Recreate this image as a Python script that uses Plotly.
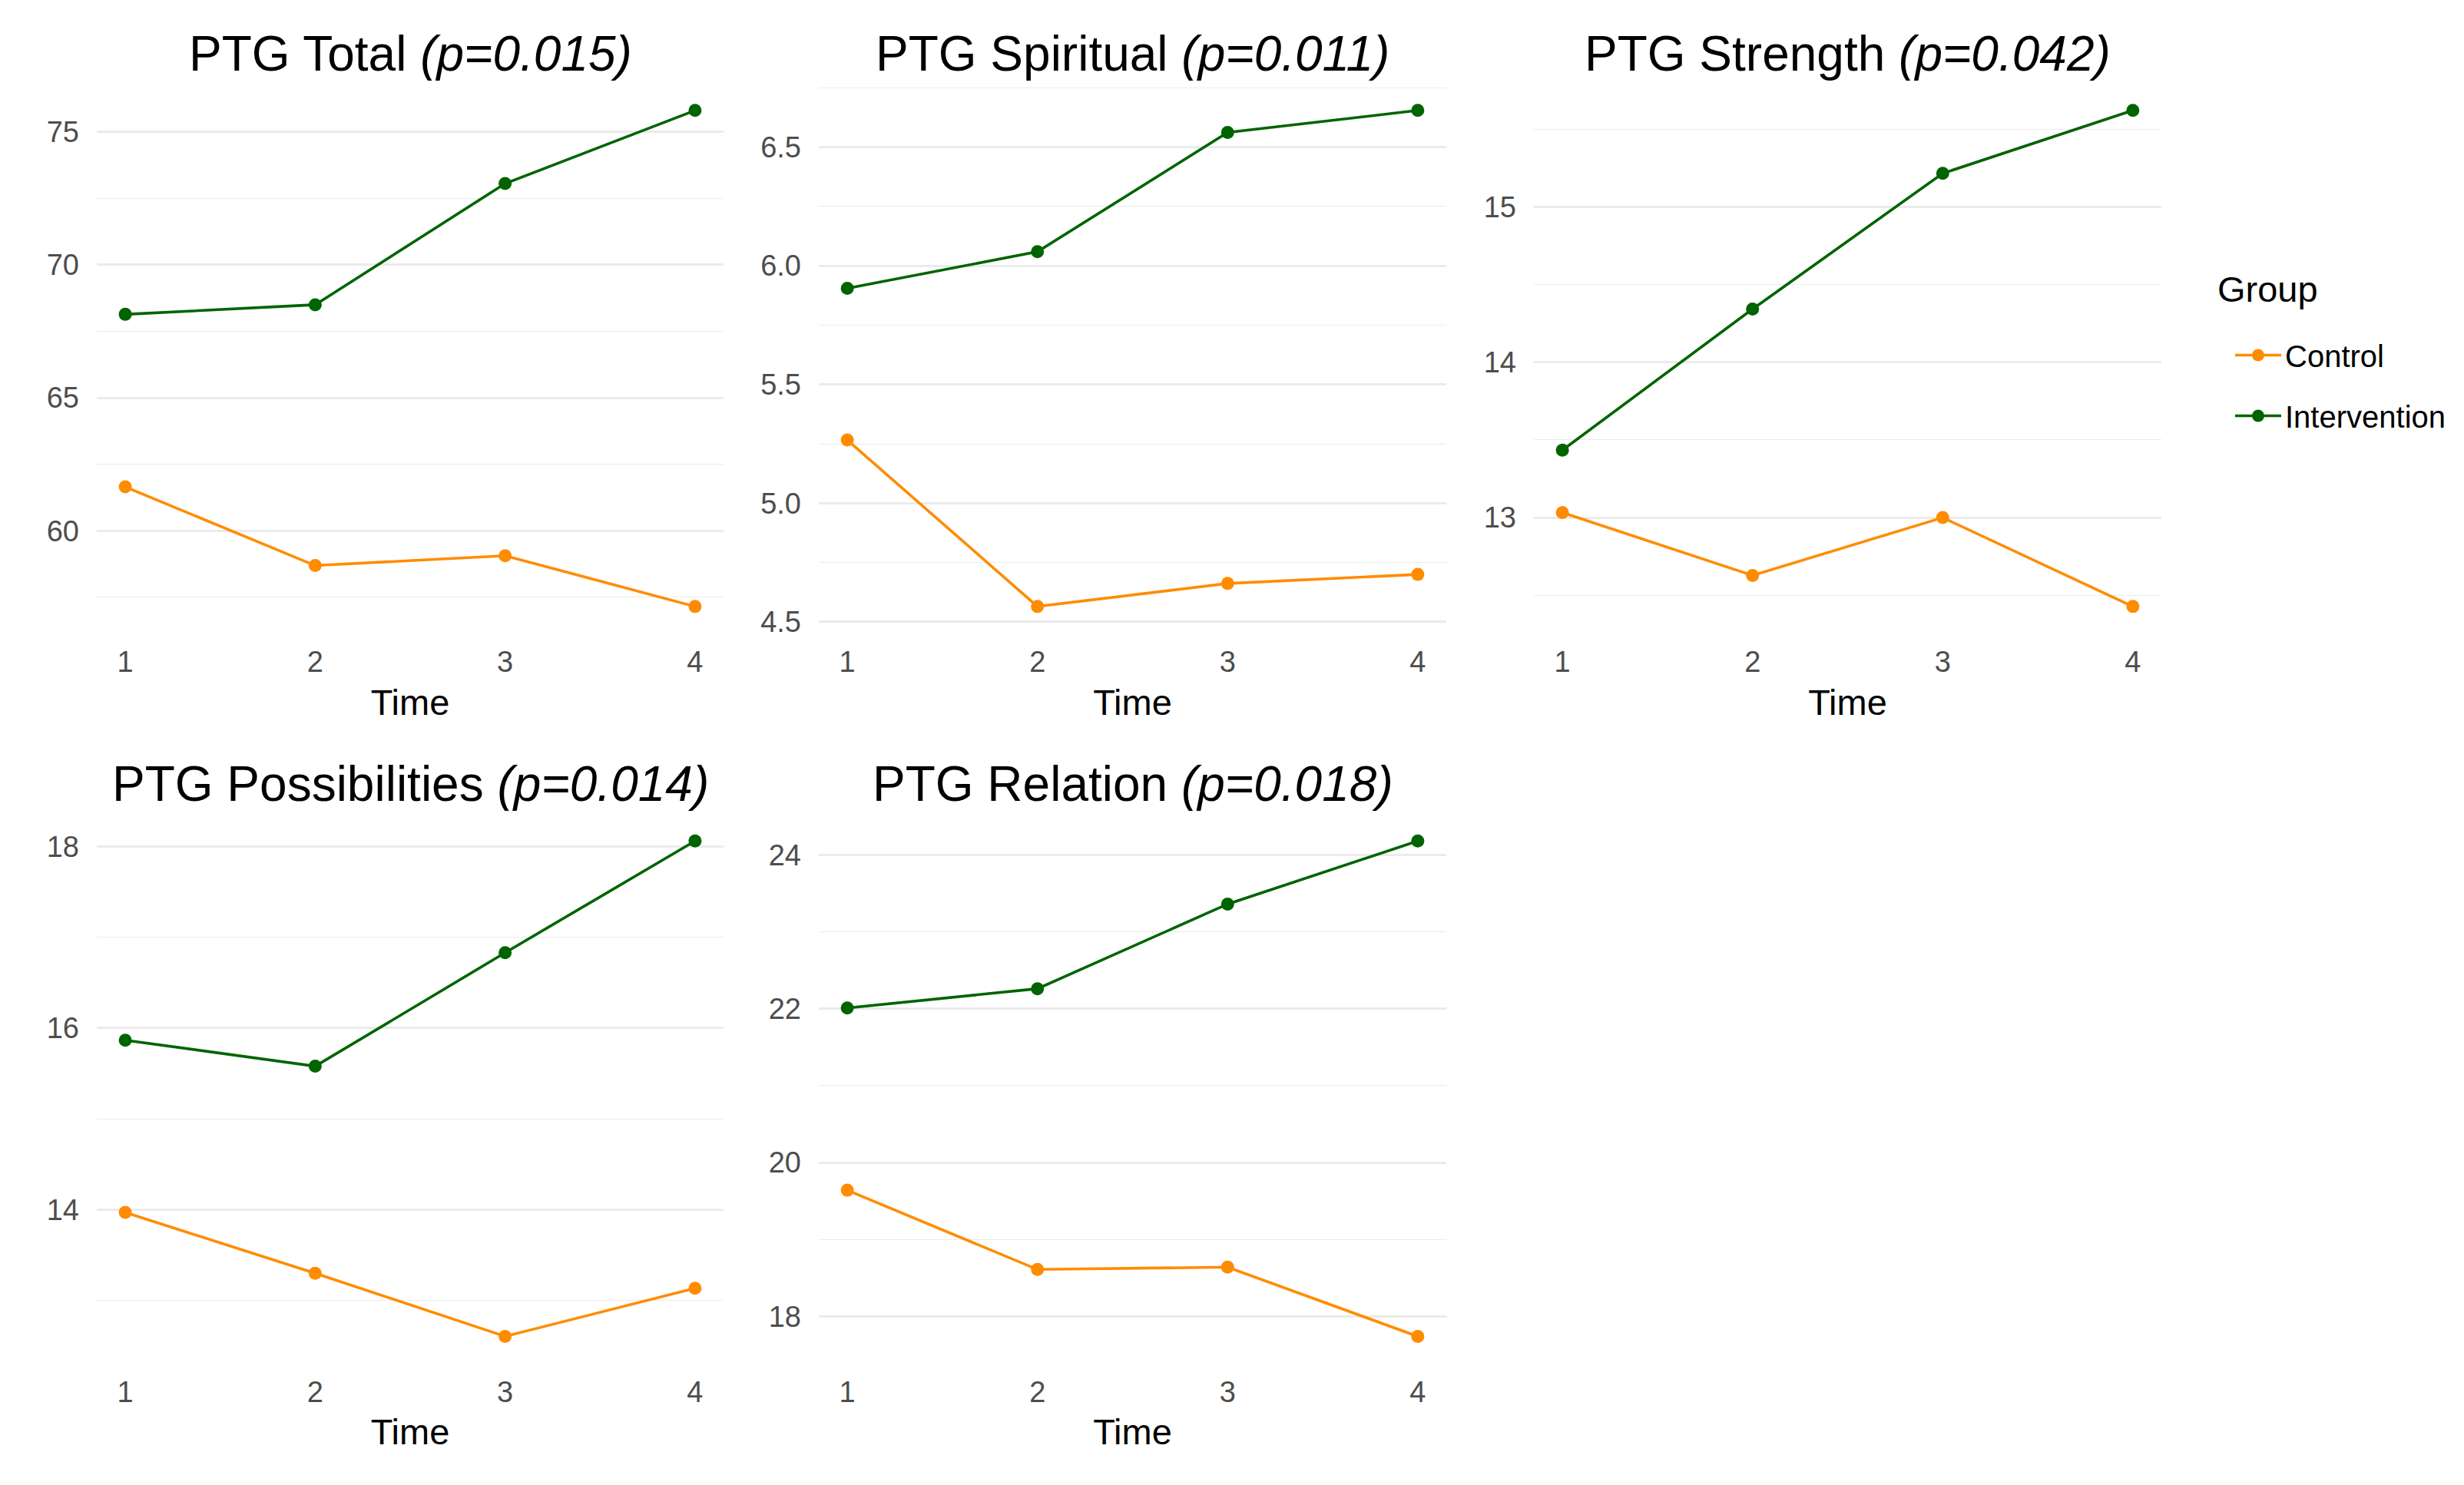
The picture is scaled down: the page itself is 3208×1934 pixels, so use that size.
import plotly.graph_objects as go

# ---------------- data ----------------
time = [1, 2, 3, 4]
groups = ["Control", "Intervention"]

titles = ["PTG Total", "PTG Spiritual", "PTG Strength", "PTG Possibilities", "PTG Relation"]
p_values = ["0.015", "0.011", "0.042", "0.014", "0.018"]

total_control = [61.65, 58.69, 59.06, 57.15]
total_intervention = [68.14, 68.50, 73.06, 75.81]
spiritual_control = [5.266, 4.565, 4.662, 4.700]
spiritual_intervention = [5.905, 6.059, 6.561, 6.654]
strength_control = [13.033, 12.628, 13.00, 12.428]
strength_intervention = [13.434, 14.342, 15.215, 15.62]
possibilities_control = [13.97, 13.30, 12.605, 13.135]
possibilities_intervention = [15.867, 15.58, 16.83, 18.06]
relation_control = [19.64, 18.61, 18.64, 17.74]
relation_intervention = [22.01, 22.26, 23.36, 24.18]

series = [
    (total_control, total_intervention),
    (spiritual_control, spiritual_intervention),
    (strength_control, strength_intervention),
    (possibilities_control, possibilities_intervention),
    (relation_control, relation_intervention),
]

# ---------------- style ----------------
OFF = 8  # default page body margin
W, H = 3208 - OFF, 1934 - OFF
colors = {"Control": "#FF8C00", "Intervention": "#006400"}
FONT = "Liberation Sans, Arial, sans-serif"
y_dticks = [5, 0.5, 1, 2, 2]
y_formats = ["d", ".1f", "d", "d", "d"]
cols_px = [(126, 942), (1066, 1883), (1997, 2814)]
rows_px = [(112, 826), (1068, 1781)]
GRID = "#EBEBEB"

fig = go.Figure()
layout = dict(
    width=W, height=H,
    margin=dict(l=0, r=0, t=0, b=0),
    paper_bgcolor="white", plot_bgcolor="white",
    font=dict(family=FONT, color="#000000"),
    annotations=[],
    showlegend=True,
)

xpad = 0.05 * (max(time) - min(time))
for i, (ctrl, intv) in enumerate(series):
    k = i + 1
    r, c = divmod(i, 3)
    xs = "" if k == 1 else str(k)
    for g, vals in zip(groups, (ctrl, intv)):
        fig.add_trace(go.Scatter(
            x=time, y=vals, mode="lines+markers", name=g,
            legendgroup=g, showlegend=(i == 0),
            line=dict(color=colors[g], width=3.6),
            marker=dict(color=colors[g], size=17),
            xaxis="x" + xs, yaxis="y" + xs,
        ))
    allv = ctrl + intv
    lo, hi = min(allv), max(allv)
    ypad = 0.05 * (hi - lo)
    x0, x1 = [v - OFF for v in cols_px[c]]
    y0, y1 = [v - OFF for v in rows_px[r]]
    layout["xaxis" + xs] = dict(
        domain=[x0 / W, x1 / W], anchor="y" + xs,
        range=[min(time) - xpad, max(time) + xpad],
        tickmode="array", tickvals=time, ticktext=[str(t) for t in time],
        showgrid=False, zeroline=False, showline=False, ticks="",
        tickfont=dict(size=38, color="#4D4D4D", family=FONT),
        ticklabelstandoff=14,
        title=dict(text="Time", font=dict(size=47, color="#000000", family=FONT), standoff=15),
    )
    layout["yaxis" + xs] = dict(
        domain=[1 - y1 / H, 1 - y0 / H], anchor="x" + xs,
        range=[lo - ypad, hi + ypad],
        dtick=y_dticks[i], tick0=0, tickformat=y_formats[i],
        showgrid=True, gridcolor=GRID, gridwidth=2.6,
        minor=dict(dtick=y_dticks[i] / 2, showgrid=True, gridcolor=GRID, gridwidth=1.4),
        zeroline=False, showline=False, ticks="",
        tickfont=dict(size=38, color="#4D4D4D", family=FONT),
        ticklabelstandoff=22,
    )
    layout["annotations"].append(dict(
        text=f"{titles[i]} <i>(p={p_values[i]})</i>",
        x=(x0 + x1) / 2 / W, y=1 - (y0 - 42) / H,
        xref="paper", yref="paper", xanchor="center", yanchor="middle",
        showarrow=False, font=dict(size=64, color="#000000", family=FONT),
    ))

# legend title as text
layout["annotations"].append(dict(
    text="Group", x=(2885 - OFF) / W, y=1 - (378 - OFF) / H,
    xref="paper", yref="paper", xanchor="left", yanchor="middle",
    showarrow=False, font=dict(size=47, color="#000000", family=FONT),
))

layout["legend"] = dict(
    x=(2905 - OFF) / W, y=1 - (432 - OFF) / H, xanchor="left", yanchor="top",
    font=dict(size=40, family=FONT, color="#000000"),
    tracegroupgap=24, itemwidth=60, bgcolor="rgba(0,0,0,0)",
)

fig.update_layout(**layout)
fig.write_html("out.html")
